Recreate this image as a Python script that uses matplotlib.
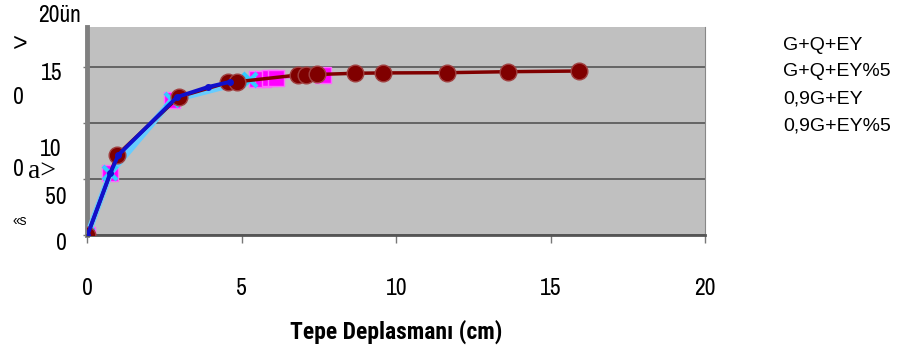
import matplotlib
matplotlib.use("Agg")
import matplotlib.pyplot as plt

# pushover-style curves, top displacement (cm) vs base shear
series_names = ["G+Q+EY", "G+Q+EY%5", "0,9G+EY", "0,9G+EY%5"]

gqey_x = [0, 0.74, 1.0, 2.9, 3.9, 4.6]
gqey_y = [0, 554, 714, 1232, 1321, 1366]

gqey5_x = [0, 0.74, 2.74, 5.5, 5.7, 5.9, 6.1, 7.64]
gqey5_y = [0, 554, 1205, 1392, 1396, 1400, 1403, 1425]

g09_x = [0, 0.96, 2.95, 4.55, 4.85, 6.83, 7.09, 7.44, 8.67, 9.58, 11.64, 13.62, 15.92]
g09_y = [0, 714, 1232, 1362, 1368, 1429, 1431, 1433, 1444, 1447, 1449, 1458, 1464]

g095_x = [0, 0.74, 2.74, 5.27]
g095_y = [0, 554, 1205, 1384]

x_ticks = [0, 5, 10, 15, 20]
y_grid = [0, 500, 1000, 1500]

# garbled y axis labels as they appear on the scanned figure: (text, x px, y px, ha)
y_texts = [("20ün", 38, 15, "left"), ("15", 62, 73, "right"), ("10", 62, 149, "right"),
           ("50", 67, 198, "right"), ("0", 67, 243, "right"), ("0", 13, 98, "left"),
           ("0", 13, 170, "left")]

narrow = ["Liberation Sans Narrow", "Archivo Narrow", "DejaVu Sans"]
narrow_bold = ["Liberation Sans Narrow", "Roboto Condensed", "Asap Condensed", "DejaVu Sans"]
sans = ["Liberation Sans", "DejaVu Sans"]

W, H = 904, 355
fig = plt.figure(figsize=(W / 100, H / 100), dpi=100)
ax = fig.add_axes([87.5 / W, 1 - 235 / H, (705 - 87.5) / W, (235 - 27) / H])
ax.set_facecolor("#c0c0c0")

ax.plot(gqey5_x, gqey5_y, color="#ff00ff", lw=1.5, marker="s", ms=11,
        mfc="#ff00ff", mec="#ff66ff", zorder=2, label=series_names[1])
ax.plot(g095_x, g095_y, color="#66ccff", lw=4.5, marker="x", ms=10, mew=3,
        mec="#33ccff", zorder=3, label=series_names[3])
ax.plot(g09_x, g09_y, color="#800000", lw=2.5, marker="o", ms=12,
        mfc="#800000", mec="#a04040", zorder=4, label=series_names[2])
ax.plot(gqey_x, gqey_y, color="#1010cc", lw=2.8, marker="o", ms=4,
        mfc="#1010cc", mec="#1010cc", zorder=5, label=series_names[0])

ax.set_xlim(0, 20)
ax.set_ylim(0, 1857)
ax.set_xticks(x_ticks)
ax.set_yticks(y_grid)
ax.set_yticklabels([])
ax.grid(axis="y", color="#555555", lw=1.2)
ax.set_axisbelow(True)

ax.tick_params(axis="x", length=6, width=1, color="#777777", pad=25)
ax.tick_params(axis="y", length=3, width=1, color="#777777")
for lab in ax.get_xticklabels():
    lab.set_family(narrow)
    lab.set_fontsize(17)

ax.spines["top"].set_visible(False)
ax.spines["left"].set_color("#808080")
ax.spines["left"].set_linewidth(3.5)
ax.spines["bottom"].set_color("#555555")
ax.spines["bottom"].set_linewidth(2)
ax.spines["right"].set_color("#888888")

fig.text(396 / W, 1 - 332 / H, "Tepe Deplasmanı (cm)", ha="center", va="center",
         family=narrow_bold, fontweight="bold", fontsize=17)

for txt, px, py, ha in y_texts:
    fig.text(px / W, 1 - py / H, txt, ha=ha, va="center", family=narrow, fontsize=17)
fig.text(13 / W, 1 - 44 / H, ">", ha="left", va="center", family=sans, fontsize=18)
fig.text(28 / W, 1 - 171 / H, "a>", ha="left", va="center", family=["Liberation Serif"], fontsize=20)
fig.text(13 / W, 1 - 221 / H, "«s", ha="left", va="center", family=sans, fontsize=10)

# legend without markers, text only
for i, name in enumerate(series_names):
    fig.text(783 / W, 1 - (45 + 27 * i) / H, name, ha="left", va="center",
             family=sans, fontsize=14)

fig.savefig("out.png", dpi=100)
